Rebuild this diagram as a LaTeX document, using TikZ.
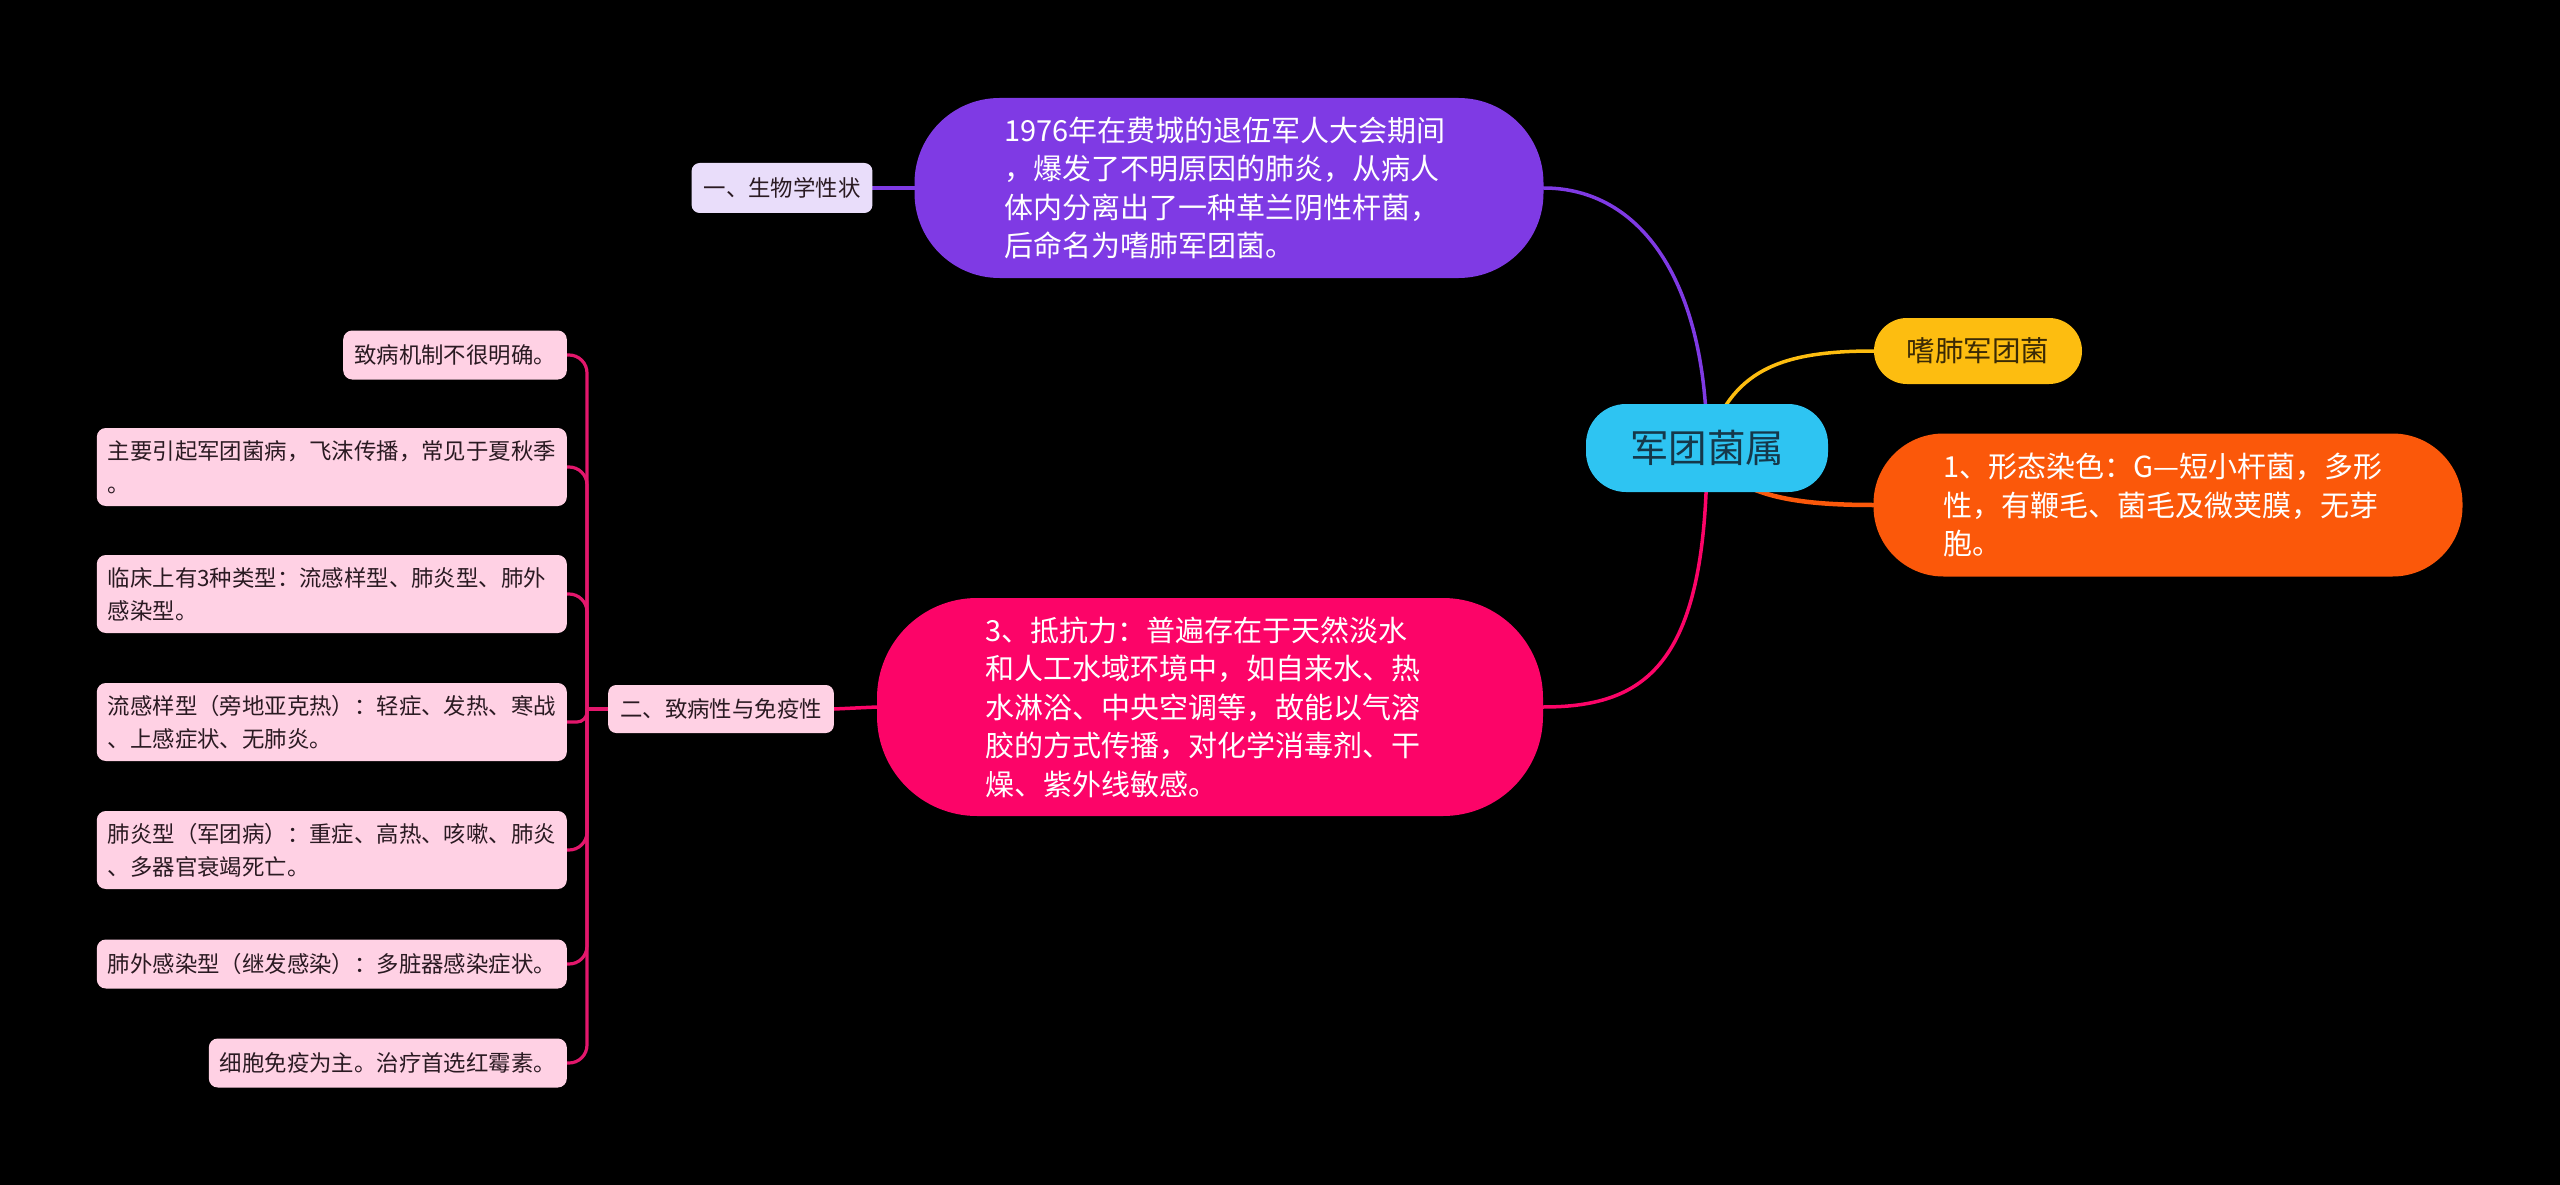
\documentclass[tikz,border=0pt]{standalone}
\usepackage{fontspec}
\newfontfamily\cjk{Noto Sans CJK SC}
\pgfdeclarelayer{bgfill}
\pgfdeclarelayer{lines}
\pgfsetlayers{bgfill,lines,main}
\definecolor{cRoot}{HTML}{2EC4F2}
\definecolor{cRootTxt}{HTML}{15384A}
\definecolor{cPurple}{HTML}{7F3AE4}
\definecolor{cYellow}{HTML}{FDBD10}
\definecolor{cYellowTxt}{HTML}{3A2A05}
\definecolor{cOrange}{HTML}{FB580A}
\definecolor{cMagenta}{HTML}{FC0468}
\definecolor{cLav}{HTML}{E9DDFA}
\definecolor{cPink}{HTML}{FFD1E4}
\definecolor{cLeafTxt}{HTML}{2A1A22}
\definecolor{cBus}{HTML}{E3176C}
\tikzset{
  rootnode/.style={fill=cRoot, text=cRootTxt, rounded corners=40pt, minimum width=242pt, minimum height=88pt, inner sep=0pt, font=\cjk\fontsize{38.5}{46}\selectfont},
  bignode/.style={text=white, align=left, inner xsep=0pt, inner ysep=0pt, font=\cjk\fontsize{29}{38.5}\selectfont},
  labelnode/.style={text=cLeafTxt, rounded corners=8pt, inner xsep=12pt, inner ysep=0pt, font=\cjk\fontsize{22.4}{33}\selectfont},
  leafnode/.style={fill=cPink, text=cLeafTxt, rounded corners=9pt, inner xsep=11pt, inner ysep=0pt, align=left, anchor=east, font=\cjk\fontsize{22.4}{33}\selectfont},
  twoline/.style={text width=448pt, minimum height=78pt},
  oneline/.style={minimum height=49pt},
  conn/.style={line width=3.5pt, line cap=round},
  busline/.style={draw=cBus, line width=3.2pt, rounded corners=18pt},
}
\begin{document}
\begin{tikzpicture}[x=1pt, y=-1pt]
\useasboundingbox (0,0) rectangle (2560,1185);
\begin{pgfonlayer}{bgfill}
  \fill[black] (0,0) rectangle (2560,1185);
\end{pgfonlayer}

% main nodes
\node[rootnode] (root) at (1707,448) {军团菌属};
\node[bignode, fill=cPurple, rounded corners=85pt, text width=450pt, minimum width=629pt, minimum height=180pt] (n1) at (1229,188)
  {1976年在费城的退伍军人大会期间\\，爆发了不明原因的肺炎，从病人\\体内分离出了一种革兰阴性杆菌，\\后命名为嗜肺军团菌。};
\node[fill=cYellow, text=cYellowTxt, rounded corners=33pt, minimum width=208pt, minimum height=66pt, inner sep=0pt, font=\cjk\fontsize{28.5}{34}\selectfont] (n2) at (1978,351) {嗜肺军团菌};
\node[bignode, fill=cOrange, rounded corners=70pt, text width=450pt, minimum width=589pt, minimum height=143pt] (n3) at (2168,505)
  {1、形态染色：G—短小杆菌，多形\\性，有鞭毛、菌毛及微荚膜，无芽\\胞。};
\node[bignode, fill=cMagenta, rounded corners=100pt, text width=450pt, minimum width=666pt, minimum height=218pt] (n4) at (1210,707)
  {3、抵抗力：普遍存在于天然淡水\\和人工水域环境中，如自来水、热\\水淋浴、中央空调等，故能以气溶\\胶的方式传播，对化学消毒剂、干\\燥、紫外线敏感。};

% labels
\node[labelnode, fill=cLav, minimum height=50pt] (l1) at (782,188) {一、生物学性状};
\node[labelnode, fill=cPink, minimum height=48pt] (l2) at (721,709) {二、致病性与免疫性};

% leaves
\node[leafnode, oneline] (a1) at (567,355) {致病机制不很明确。};
\node[leafnode, twoline] (a2) at (567,467) {主要引起军团菌病，飞沫传播，常见于夏秋季\\。};
\node[leafnode, twoline] (a3) at (567,594) {临床上有3种类型：流感样型、肺炎型、肺外\\感染型。};
\node[leafnode, twoline] (a4) at (567,722) {流感样型（旁地亚克热）：轻症、发热、寒战\\、上感症状、无肺炎。};
\node[leafnode, twoline] (a5) at (567,850) {肺炎型（军团病）：重症、高热、咳嗽、肺炎\\、多器官衰竭死亡。};
\node[leafnode, oneline] (a6) at (567,964) {肺外感染型（继发感染）：多脏器感染症状。};
\node[leafnode, oneline] (a7) at (567,1063) {细胞免疫为主。治疗首选红霉素。};

\coordinate (bus) at (587,709);

\begin{pgfonlayer}{lines}
  \draw[conn, draw=cPurple] (n1.east) .. controls (1640,188) and (1707,280) .. (root.center);
  \draw[conn, draw=cYellow] (root.center) .. controls (1730,370) and (1780,351) .. (n2.west);
  \draw[conn, draw=cOrange, line width=4.5pt] (root.center) .. controls (1730,495) and (1790,505) .. (n3.west);
  \draw[conn, draw=cMagenta] (root.center) .. controls (1707,660) and (1650,707) .. (n4.east);
  \draw[conn, draw=cPurple] (n1.west) -- (l1.east);
  \draw[conn, draw=cMagenta] (n4.west) -- (l2.east);
  \draw[busline] (l2.west) -- (bus);
  \draw[busline] (bus) |- (a1.east);
  \draw[busline] (bus) |- (a2.east);
  \draw[busline] (bus) |- (a3.east);
  \draw[busline, rounded corners=10pt] (bus) |- (a4.east);
  \draw[busline] (bus) |- (a5.east);
  \draw[busline] (bus) |- (a6.east);
  \draw[busline] (bus) |- (a7.east);
\end{pgfonlayer}
\end{tikzpicture}
\end{document}
